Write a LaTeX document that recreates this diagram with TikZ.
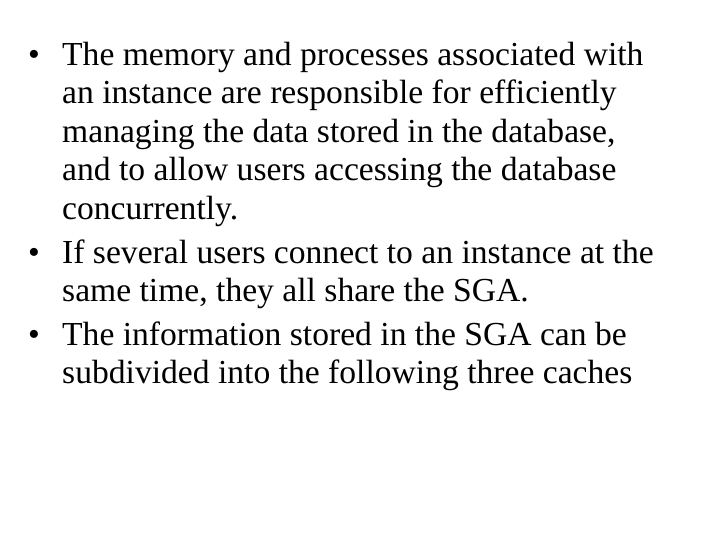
\documentclass[tikz,border=0pt]{standalone}
\usepackage{fontspec}
\setmainfont{Liberation Serif}
\begin{document}
\begin{tikzpicture}[x=1pt,y=-1pt,every node/.style={inner sep=0pt,anchor=base west,font=\fontsize{33.6}{38}\selectfont}]
\useasboundingbox[fill=white] (0,0) rectangle (720,540);
\node (b1) at (28,66) {•};
\node (l1) at (62,66) {The memory and processes associated with};
\node (l2) at (62,104) {an instance are responsible for efficiently};
\node (l3) at (62,143) {managing the data stored in the database,};
\node (l4) at (62,181) {and to allow users accessing the database};
\node (l5) at (62,219) {concurrently.};
\node (b2) at (28,263) {•};
\node (l6) at (62,263) {If several users connect to an instance at the};
\node (l7) at (62,301) {same time, they all share the SGA.};
\node (b3) at (28,345) {•};
\node (l8) at (62,345) {The information stored in the SGA can be};
\node (l9) at (62,383) {subdivided into the following three caches};
\end{tikzpicture}
\end{document}
